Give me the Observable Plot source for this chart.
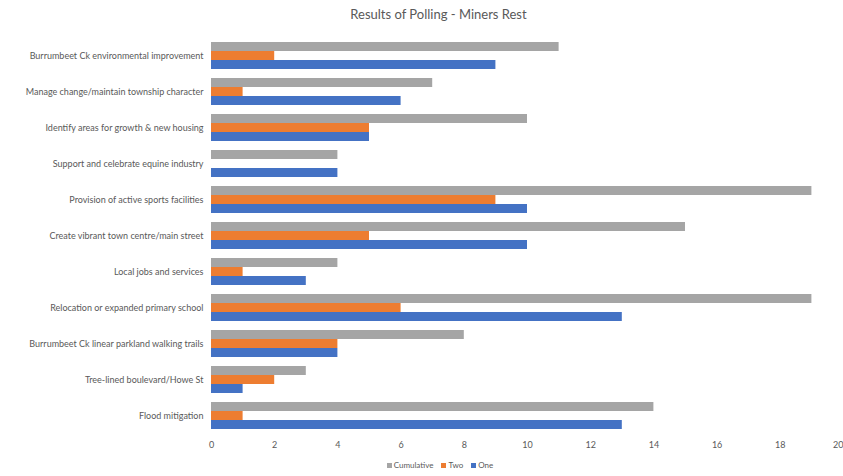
<!DOCTYPE html>
<html>
<head>
<meta charset="utf-8">
<script src="https://cdn.jsdelivr.net/npm/d3@7"></script>
<script src="https://cdn.jsdelivr.net/npm/@observablehq/plot@0.6"></script>
<style>
  body { margin: 0; background: #fff; font-family: Lato, "Open Sans", sans-serif; }
  #wrap { width: 843px; }
  #title { height: 28px; line-height: 28px; font-size: 13px; color: #595959; text-align: center; padding-left: 34px; }
  #legend { height: 21px; line-height: 21px; font-size: 8px; color: #595959; text-align: center; padding-left: 37px; }
  #legend span.item { margin: 0 4px; white-space: nowrap; }
  #legend span.sw { display: inline-block; width: 5px; height: 5px; margin-right: 2px; vertical-align: middle; }
</style>
</head>
<body>
<div id="wrap">
  <div id="title">Results of Polling - Miners Rest</div>
  <div id="chart"></div>
  <div id="legend"></div>
</div>
<script>
// Poll topics, top to bottom
const categories = [
  "Burrumbeet Ck environmental improvement",
  "Manage change/maintain township character",
  "Identify areas for growth & new housing",
  "Support and celebrate equine industry",
  "Provision of active sports facilities",
  "Create vibrant town centre/main street",
  "Local jobs and services",
  "Relocation or expanded primary school",
  "Burrumbeet Ck linear parkland walking trails",
  "Tree-lined boulevard/Howe St",
  "Flood mitigation"
];

// Votes per topic
const one        = [9, 6, 5, 4, 10, 10, 3, 13, 4, 1, 13];
const two        = [2, 1, 5, 0, 9, 5, 1, 6, 4, 2, 1];
const cumulative = [11, 7, 10, 4, 19, 15, 4, 19, 8, 3, 14];

const seriesNames = ["Cumulative", "Two", "One"];
const seriesColors = ["#A5A5A5", "#ED7D31", "#4472C4"];
const xTicks = [0, 2, 4, 6, 8, 10, 12, 14, 16, 18, 20];

const valuesBySeries = { Cumulative: cumulative, Two: two, One: one };
const rows = categories.flatMap((category, i) =>
  seriesNames.map(series => ({ category, series, value: valuesBySeries[series][i] }))
);

// the last tick sits on the right edge, so its label is right-aligned
const innerTicks = xTicks.slice(0, -1);
const edgeTicks = xTicks.slice(-1);

const chart = Plot.plot({
  width: 843,
  height: 427,
  marginLeft: 211,
  marginRight: 0,
  marginTop: 8,
  marginBottom: 21,
  style: { fontFamily: "Lato, 'Open Sans', sans-serif", fontSize: "9px", color: "#595959", background: "transparent" },
  x: { domain: [0, 20], label: null },
  y: { domain: seriesNames, padding: 0, axis: null },
  fy: { domain: categories, paddingInner: 0.2, paddingOuter: 0.1, axis: "left", tickSize: 0, tickPadding: 8, label: null },
  color: { domain: seriesNames, range: seriesColors },
  marks: [
    Plot.barX(rows, { x: "value", y: "series", fy: "category", fill: "series" }),
    Plot.axisX(innerTicks, { tickSize: 0, tickPadding: 11, label: null }),
    Plot.axisX(edgeTicks, { tickSize: 0, tickPadding: 11, label: null, textAnchor: "end" })
  ]
});
document.getElementById("chart").appendChild(chart);

// Legend row under the plot
const legend = document.getElementById("legend");
seriesNames.forEach((name, i) => {
  const item = document.createElement("span");
  item.className = "item";
  const sw = document.createElement("span");
  sw.className = "sw";
  sw.style.background = seriesColors[i];
  item.appendChild(sw);
  item.appendChild(document.createTextNode(name));
  legend.appendChild(item);
});
</script>
</body>
</html>
